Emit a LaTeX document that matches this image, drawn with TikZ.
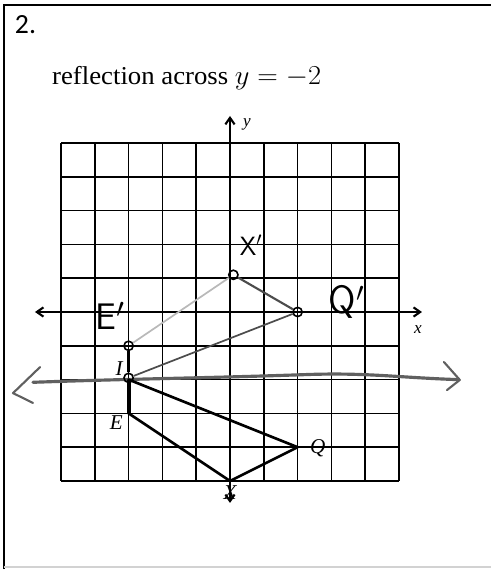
\documentclass[tikz,border=0pt]{standalone}
\usepackage{fontspec}
\setmainfont{Liberation Serif}
\newfontfamily\numfont{Carlito}
\usetikzlibrary{arrows.meta}

\begin{document}
\begin{tikzpicture}[
    x=0.9cm,
    y=0.9cm,
    >={Straight Barb[length=5pt,width=7pt]},
    gridline/.style={line width=1.3pt},
    axisline/.style={line width=1.6pt, <->},
    refl/.style={gray!75!black, line width=2.4pt, line cap=round, line join=round},
    orig/.style={line width=2pt, line join=round},
    img/.style={gray!60!black, line width=1.3pt},
    vmark/.style={circle, draw, line width=1.2pt, inner sep=0pt, minimum size=7pt},
    typed/.style={font=\fontsize{16}{18}\selectfont\itshape, inner sep=1pt},
    hand/.style={font=\sffamily, inner sep=1pt}
]
    \useasboundingbox (-6.805,-7.604) rectangle (7.722,9.231);
    % frame of the exercise
    \draw[line width=1.5pt] (-6.69,-7.604) -- (-6.69,9.08) -- (7.722,9.08);
    \draw[gray!35, line width=1pt] (-6.69,-7.54) -- (7.722,-7.54);
    \node[font=\numfont\fontsize{21}{23}\selectfont, anchor=west] (num) at (-6.5,8.49) {2.};
    \node[font=\fontsize{19.5}{22}\selectfont, anchor=base west, inner sep=0pt, xscale=1.04] (title) at (-5.27,6.72)
        {reflection across $y = -2$};

    % grid and axes
    \foreach \k in {-5,...,5} {
        \draw[gridline] (\k,-5) -- (\k,5);
        \draw[gridline] (-5,\k) -- (5,\k);
    }
    \draw[axisline] (0,-5.65) -- (0,5.8);
    \draw[axisline] (-5.77,0) -- (5.68,0);
    \node[font=\fontsize{13}{15}\selectfont\itshape] (ylab) at (0.5,5.56) {y};
    \node[font=\fontsize{13}{15}\selectfont\itshape] (xlab) at (5.56,-0.53) {x};

    % line of reflection, drawn by hand
    \coordinate (lineL) at (-5.83,-2.08);
    \coordinate (lineR) at (6.72,-2.0);
    \draw[refl] (lineL) to[out=2,in=182] (2.3,-1.85) to[out=2,in=178] (lineR);
    \draw[refl, line width=1.6pt] (-5.62,-1.63) -- (-6.42,-2.40) -- (-5.83,-2.69);
    \draw[refl, line width=1.6pt] (6.33,-1.48) -- (6.80,-2.01) -- (6.42,-2.31);

    % pre-image
    \coordinate (I) at (-3,-2);
    \coordinate (E) at (-3,-3);
    \coordinate (Q) at (2,-4);
    \coordinate (X) at (0,-5);
    \draw[orig] (I) -- (Q) -- (X) -- (E) -- cycle;
    \draw[line width=3pt] (I) -- (E);
    \node[typed] (labI) at (-3.28,-1.68) {I};
    \node[typed] (labE) at (-3.36,-3.27) {E};
    \node[typed] (labQ) at (2.6,-4.02) {Q};
    \node[typed] (labX) at (0,-5.35) {X};

    % image
    \node[vmark] (Ip) at (-3,-1.95) {};
    \node[vmark] (Ep) at (-3,-1) {};
    \node[vmark] (Xp) at (0.1,1.1) {};
    \node[vmark] (Qp) at (2,0) {};
    \draw[img, gray!55] (Ep) -- (Xp);
    \draw[img, line width=1.6pt] (Xp) -- (Qp);
    \draw[img] (Qp) -- (Ip);
    \draw[line width=2.2pt] (Ip) -- (Ep);
    \node[hand, font=\sffamily\fontsize{28}{30}\selectfont] (labEp) at (-3.55,-0.12) {E$'$};
    \node[hand, font=\sffamily\fontsize{20}{22}\selectfont] (labXp) at (0.62,1.98) {X$'$};
    \node[hand, font=\sffamily\fontsize{30}{32}\selectfont] (labQp) at (3.45,0.3) {Q$'$};
\end{tikzpicture}
\end{document}
